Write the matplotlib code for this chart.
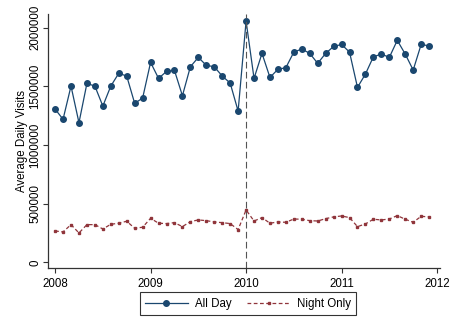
import numpy as np
import pandas as pd
import matplotlib
matplotlib.use("Agg")
import matplotlib.pyplot as plt

plt.rcParams["font.family"] = ["Liberation Sans", "DejaVu Sans"]

# monthly averages, Jan 2008 - Dec 2011
months = pd.date_range("2008-01-01", periods=48, freq="MS")

all_day = [
    1307000, 1220000, 1503000, 1191000, 1526000, 1503000, 1333000, 1503000,
    1612000, 1589000, 1356000, 1401000,
    1705000, 1569000, 1628000, 1637000, 1421000, 1668000, 1748000, 1680000,
    1668000, 1589000, 1529000, 1290000,
    2057000, 1569000, 1782000, 1577000, 1646000, 1660000, 1793000, 1819000,
    1782000, 1697000, 1782000, 1841000,
    1858000, 1793000, 1492000, 1606000, 1753000, 1776000, 1748000, 1893000,
    1776000, 1640000, 1858000, 1846000,
]

night_only = [
    268000, 260000, 322000, 251000, 322000, 322000, 285000, 325000,
    334000, 351000, 291000, 300000,
    376000, 334000, 331000, 339000, 305000, 348000, 362000, 356000,
    345000, 339000, 331000, 280000,
    447000, 353000, 382000, 334000, 345000, 342000, 370000, 368000,
    356000, 353000, 373000, 388000,
    396000, 382000, 305000, 328000, 368000, 362000, 370000, 399000,
    368000, 342000, 393000, 388000,
]

year_ticks = [2008, 2009, 2010, 2011, 2012]
value_ticks = [0, 500000, 1000000, 1500000, 2000000]
break_year = 2010

navy = "#1a476f"
maroon = "#90353b"

x = months.year + (months.month - 1) / 12.0

fig = plt.figure(figsize=(4.54, 3.2), dpi=100)
ax = fig.add_axes([0.106, 0.162, 0.863, 0.794])

ax.plot(x, all_day, color=navy, lw=0.9, marker="o", markersize=4.0,
        label="All Day")
ax.plot(x, night_only, color=maroon, lw=0.9, ls=(0, (3, 2)), marker="s",
        markersize=1.8, label="Night Only")
ax.axvline(break_year, color="#555555", lw=0.8, ls=(0, (6, 3)))

ax.set_xlim(2007.927, 2012.03)
ax.set_ylim(-49000, 2117000)
ax.set_xticks(year_ticks)
ax.set_yticks(value_ticks)
ax.set_yticklabels([str(v) for v in value_ticks], rotation=90, va="center")
ax.tick_params(labelsize=8.3, length=3.8, width=0.8, color="#333333")
ax.tick_params(axis="y", pad=1)
ax.set_ylabel("Average Daily Visits", fontsize=8.3, labelpad=1)

for side in ["top", "right"]:
    ax.spines[side].set_visible(False)
for side in ["left", "bottom"]:
    ax.spines[side].set_color("#333333")
    ax.spines[side].set_linewidth(0.9)

leg = ax.legend(loc="upper center", bbox_to_anchor=(0.51, -0.073), ncol=2,
                fontsize=8.3, handlelength=3.7, frameon=True, fancybox=False,
                borderpad=0.45, columnspacing=1.4, handletextpad=0.6)
leg.get_frame().set_edgecolor("black")
leg.get_frame().set_linewidth(0.8)

fig.savefig("out.png", dpi=100)
